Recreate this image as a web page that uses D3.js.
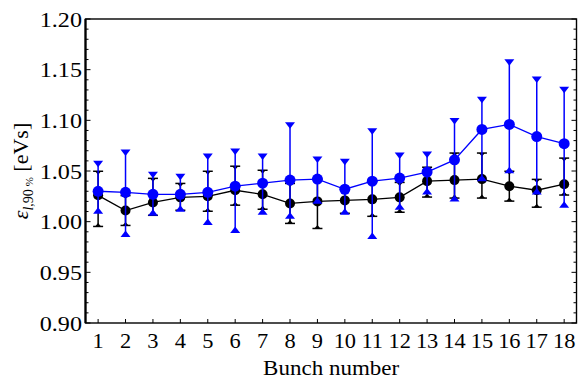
<!DOCTYPE html>
<html>
<head>
<meta charset="utf-8">
<script src="https://cdn.jsdelivr.net/npm/d3@7"></script>
<style>
  body { margin: 0; background: #fff; }
</style>
</head>
<body>
<svg id="chart"></svg>
<script>
// data
const bunches = [1, 2, 3, 4, 5, 6, 7, 8, 9, 10, 11, 12, 13, 14, 15, 16, 17, 18];

const blueVal = [1.030, 1.029, 1.027, 1.027, 1.029, 1.035, 1.038, 1.041, 1.042, 1.032, 1.040, 1.043, 1.049, 1.061, 1.091, 1.096, 1.084, 1.077];
const blueHi  = [1.057, 1.068, 1.046, 1.044, 1.064, 1.069, 1.064, 1.095, 1.061, 1.059, 1.089, 1.065, 1.066, 1.099, 1.120, 1.157, 1.140, 1.130];
const blueLo  = [1.011, 0.988, 1.009, 1.013, 1.000, 0.992, 1.010, 1.006, 1.021, 1.010, 0.986, 1.015, 1.030, 1.023, 1.043, 1.051, 1.030, 1.017];

const blackVal = [1.026, 1.011, 1.019, 1.024, 1.025, 1.031, 1.027, 1.018, 1.020, 1.021, 1.022, 1.024, 1.040, 1.041, 1.042, 1.035, 1.031, 1.037];
const blackHi  = [1.048, 1.024, 1.041, 1.036, 1.048, 1.053, 1.049, 1.036, 1.040, 1.031, 1.038, 1.037, 1.052, 1.066, 1.066, 1.048, 1.040, 1.061];
const blackLo  = [0.997, 0.998, 1.008, 1.013, 1.012, 1.018, 1.014, 1.000, 0.995, 1.010, 1.007, 1.011, 1.026, 1.025, 1.025, 1.022, 1.016, 1.028];

const yTicks = [0.90, 0.95, 1.00, 1.05, 1.10, 1.15, 1.20];

const width = 578, height = 383;
const margin = { top: 19, right: 1.5, bottom: 60, left: 85.5 };
const serif = "Liberation Serif";

const svg = d3.select("#chart")
  .attr("width", width)
  .attr("height", height);

const x = d3.scaleLinear()
  .domain([0.54, 18.45])
  .range([margin.left, width - margin.right]);

const y = d3.scaleLinear()
  .domain([0.90, 1.20])
  .range([height - margin.bottom, margin.top]);

const plot = svg.append("g").attr("class", "plot");

// frame
plot.append("rect")
  .attr("x", x.range()[0])
  .attr("y", y.range()[1])
  .attr("width", x.range()[1] - x.range()[0])
  .attr("height", y.range()[0] - y.range()[1])
  .attr("fill", "none")
  .attr("stroke", "#000")
  .attr("stroke-width", 1.4);

// thicker left axis line
plot.append("line")
  .attr("x1", x.range()[0]).attr("x2", x.range()[0])
  .attr("y1", y.range()[0]).attr("y2", y.range()[1])
  .attr("stroke", "#000")
  .attr("stroke-width", 2.2);

// minor + major ticks on left and right, pointing inward
const minorTicks = d3.range(0, 31).map(i => 0.90 + i * 0.01);
minorTicks.forEach((v, i) => {
  const len = (i % 5 === 0) ? 5 : 3;
  plot.append("line")
    .attr("x1", x.range()[0]).attr("x2", x.range()[0] + len)
    .attr("y1", y(v)).attr("y2", y(v))
    .attr("stroke", "#000").attr("stroke-width", 1);
  plot.append("line")
    .attr("x1", x.range()[1]).attr("x2", x.range()[1] - len)
    .attr("y1", y(v)).attr("y2", y(v))
    .attr("stroke", "#000").attr("stroke-width", 1);
});

// bottom ticks
plot.selectAll(".xtick")
  .data(bunches)
  .enter()
  .append("line")
  .attr("class", "xtick")
  .attr("x1", d => x(d)).attr("x2", d => x(d))
  .attr("y1", y.range()[0]).attr("y2", y.range()[0] - 4)
  .attr("stroke", "#000").attr("stroke-width", 1);

// tick labels (source figure is a little stretched sideways)
svg.selectAll(".ylab")
  .data(yTicks)
  .enter()
  .append("text")
  .attr("class", "ylab")
  .attr("font-family", serif)
  .attr("transform", d => `translate(82, ${y(d) + 7.5}) scale(1.15,1)`)
  .attr("text-anchor", "end")
  .attr("font-size", 21)
  .text(d => d.toFixed(2));

svg.selectAll(".xlab")
  .data(bunches)
  .enter()
  .append("text")
  .attr("class", "xlab")
  .attr("font-family", serif)
  .attr("transform", d => `translate(${x(d)}, ${y.range()[0] + 25}) scale(1.12,1)`)
  .attr("text-anchor", "middle")
  .attr("font-size", 20)
  .text(d => d);

// axis titles
svg.append("text")
  .attr("font-family", serif)
  .attr("transform", `translate(${x(9.5)}, 375) scale(1.15,1)`)
  .attr("text-anchor", "middle")
  .attr("font-size", 20)
  .text("Bunch number");

const yTitle = svg.append("text")
  .attr("font-family", serif)
  .attr("transform", "translate(28, 171) rotate(-90)")
  .attr("text-anchor", "middle")
  .attr("font-size", 22);
yTitle.append("tspan").attr("font-style", "italic").text("ε");
yTitle.append("tspan").attr("dy", 5).attr("font-size", 14).attr("font-style", "italic").text("l");
yTitle.append("tspan").attr("font-size", 14).text(",90\u2009");
yTitle.append("tspan").attr("font-size", 11).text("%");
yTitle.append("tspan").attr("dy", -5).text(" [eVs]");

// draws one series: line, error bars with caps, points
function drawSeries(vals, hi, lo, colour, bigCaps) {
  const g = plot.append("g");
  const pts = bunches.map((b, i) => ({ b: b, v: vals[i], hi: hi[i], lo: lo[i] }));

  g.append("path")
    .datum(pts)
    .attr("fill", "none")
    .attr("stroke", colour)
    .attr("stroke-width", 1.3)
    .attr("d", d3.line().x(d => x(d.b)).y(d => y(d.v)));

  g.selectAll(".err")
    .data(pts)
    .enter()
    .append("line")
    .attr("x1", d => x(d.b)).attr("x2", d => x(d.b))
    .attr("y1", d => y(d.hi)).attr("y2", d => y(d.lo))
    .attr("stroke", colour)
    .attr("stroke-width", 1.5);

  const tw = bigCaps ? 5 : 3, th = bigCaps ? 6.5 : 3.5;
  // upper caps point down, lower caps point up
  g.selectAll(".capHi")
    .data(pts)
    .enter()
    .append("path")
    .attr("fill", colour)
    .attr("d", d => {
      const cx = x(d.b), cy = y(d.hi) - th / 2;
      return `M${cx - tw},${cy}L${cx + tw},${cy}L${cx},${cy + th}Z`;
    });
  g.selectAll(".capLo")
    .data(pts)
    .enter()
    .append("path")
    .attr("fill", colour)
    .attr("d", d => {
      const cx = x(d.b), cy = y(d.lo) + th / 2;
      return `M${cx - tw},${cy}L${cx + tw},${cy}L${cx},${cy - th}Z`;
    });

  if (!bigCaps) {
    g.selectAll(".barHi")
      .data(pts.flatMap(d => [y(d.hi) - th / 2, y(d.lo) + th / 2].map(v => ({ b: d.b, py: v }))))
      .enter()
      .append("line")
      .attr("x1", d => x(d.b) - 5).attr("x2", d => x(d.b) + 5)
      .attr("y1", d => d.py).attr("y2", d => d.py)
      .attr("stroke", colour)
      .attr("stroke-width", 1.5);
  }

  g.selectAll(".pt")
    .data(pts)
    .enter()
    .append("circle")
    .attr("cx", d => x(d.b))
    .attr("cy", d => y(d.v))
    .attr("r", bigCaps ? 5.5 : 5)
    .attr("fill", colour);
}

drawSeries(blackVal, blackHi, blackLo, "#000000", false);
drawSeries(blueVal, blueHi, blueLo, "#0000ff", true);
</script>
</body>
</html>
